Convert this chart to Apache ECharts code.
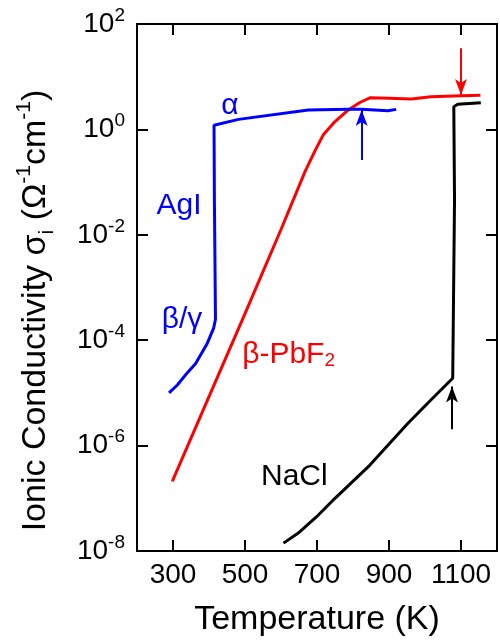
<!DOCTYPE html>
<html>
<head>
<meta charset="utf-8">
<script src="https://cdn.jsdelivr.net/npm/echarts@6/dist/echarts.min.js"></script>
<style>html,body{margin:0;padding:0;background:#fff}#c{width:500px;height:642px}</style>
</head>
<body>
<div id="c"></div>
<script>
// ---- data ----
const xTickValues = [300, 500, 700, 900, 1100];

const agiT     = [289, 312, 335, 363, 395, 413, 418, 415, 414, 482, 676, 787, 823, 897, 920];
const agiSigma = [1.0e-5, 1.41e-5, 2.2e-5, 3.6e-5, 8.7e-5, 1.7e-4, 2.5e-4, 4.6e-2, 1.2, 1.55, 2.33, 2.4, 2.4, 2.26, 2.4];

const pbf2T     = [298, 400, 500, 600, 667, 695, 717, 750, 787, 819, 847, 900, 962, 1017, 1100, 1154];
const pbf2Sigma = [2.1e-7, 8.5e-6, 3.2e-4, 1.26e-2, 0.16, 0.4, 0.78, 1.41, 2.34, 3.24, 3.98, 3.9, 3.78, 4.17, 4.37, 4.44];

const naclT     = [607, 648, 699, 750, 847, 897, 952, 1017, 1077, 1082, 1080, 1091, 1155];
const naclSigma = [1.41e-8, 2.19e-8, 4.47e-8, 1.0e-7, 4.27e-7, 1.02e-6, 2.63e-6, 7.4e-6, 1.9e-5, 4.57e-2, 2.69, 2.99, 3.21];

// arrows: [T, sigma at tail, sigma at head]
const agiArrow  = [824, 0.263, 2.33];
const pbf2Arrow = [1100, 34.7, 4.5];
const naclArrow = [1075, 2.04e-6, 1.32e-5];

// annotation labels
const annoText  = ['α', 'AgI', 'β/γ', 'β-PbF{sub|2}', 'NaCl'];
const annoT     = [458, 317, 325, 621, 637];
const annoSigma = [2.78, 0.0352, 2.42e-4, 5.24e-5, 2.54e-7];
const annoColor = ['#0000ff', '#0000ff', '#0000ff', '#ff0000', '#000000'];

// ---- chart ----
const FONT = "'Liberation Sans', Arial, sans-serif";
const zip = (a, b) => a.map((v, i) => [v, b[i]]);
const arrowLine = (arr, color) => ({
  silent: true,
  symbol: ['none', 'arrow'],
  label: {show: false},
  lineStyle: {color: color, width: 2, type: 'solid'},
  emphasis: {disabled: true},
  data: [[
    {coord: [arr[0], arr[1]], symbol: 'none'},
    {coord: [arr[0], arr[2]], symbol: 'arrow', symbolSize: [9, 16]}
  ]]
});

const chart = echarts.init(document.getElementById('c'), null, {renderer: 'canvas'});
const axisLineStyle = {color: '#000', width: 2};
const supLabel = v => {
  const e = Math.round(Math.log10(v));
  return '{b|10}{s|' + e + '}';
};

chart.setOption({
  animation: false,
  textStyle: {fontFamily: FONT},
  grid: {left: 137, right: 3, top: 24, bottom: 91, containLabel: false},
  xAxis: [{
    type: 'value', min: 200, max: 1200, position: 'bottom',
    name: 'Temperature (K)', nameLocation: 'middle', nameGap: 52,
    nameTextStyle: {fontSize: 34, color: '#000', fontFamily: FONT},
    axisLine: {show: true, lineStyle: axisLineStyle},
    axisTick: {show: true, inside: true, length: 11, lineStyle: axisLineStyle, customValues: xTickValues},
    axisLabel: {show: true, fontSize: 28, color: '#000', margin: 10, fontFamily: FONT,
                customValues: xTickValues, formatter: v => String(v)},
    splitLine: {show: false}
  }, {
    type: 'value', min: 200, max: 1200, position: 'top',
    axisLine: {show: true, lineStyle: axisLineStyle},
    axisTick: {show: true, inside: true, length: 11, lineStyle: axisLineStyle, customValues: xTickValues},
    axisLabel: {show: false},
    splitLine: {show: false}
  }],
  yAxis: [{
    type: 'log', logBase: 100, min: 1e-8, max: 1e2, position: 'left',
    name: 'Ionic Conductivity σ{sub|i} (Ω{sup|-1}cm{sup|-1})',
    nameLocation: 'middle', nameGap: 79, nameRotate: 90,
    nameTextStyle: {
      fontSize: 34, color: '#000', fontFamily: FONT, lineHeight: 44,
      padding: [0, 46, 0, 0],
      rich: {
        sub: {fontSize: 21, verticalAlign: 'bottom', lineHeight: 21, color: '#000', fontFamily: FONT},
        sup: {fontSize: 21, verticalAlign: 'top', lineHeight: 21, color: '#000', fontFamily: FONT}
      }
    },
    axisLine: {show: true, lineStyle: axisLineStyle},
    axisTick: {show: true, inside: true, length: 11, lineStyle: axisLineStyle},
    axisLabel: {
      show: true, margin: 12, color: '#000', formatter: supLabel,
      rich: {
        b: {fontSize: 28, lineHeight: 36, verticalAlign: 'middle', color: '#000', fontFamily: FONT},
        s: {fontSize: 19, lineHeight: 19, verticalAlign: 'top', color: '#000', fontFamily: FONT}
      }
    },
    splitLine: {show: false}
  }, {
    type: 'log', logBase: 100, min: 1e-8, max: 1e2, position: 'right',
    axisLine: {show: true, lineStyle: axisLineStyle},
    axisTick: {show: true, inside: true, length: 11, lineStyle: axisLineStyle},
    axisLabel: {show: false},
    splitLine: {show: false}
  }],
  series: [{
    name: 'AgI', type: 'line', data: zip(agiT, agiSigma), symbol: 'none',
    lineStyle: {color: '#0000ff', width: 3}, z: 3,
    markLine: arrowLine(agiArrow, '#0000ff')
  }, {
    name: 'PbF2', type: 'line', data: zip(pbf2T, pbf2Sigma), symbol: 'none',
    lineStyle: {color: '#ff0000', width: 3}, z: 2,
    markLine: arrowLine(pbf2Arrow, '#ff0000')
  }, {
    name: 'NaCl', type: 'line', data: zip(naclT, naclSigma), symbol: 'none',
    lineStyle: {color: '#000000', width: 3}, z: 2,
    markLine: arrowLine(naclArrow, '#000000')
  }, {
    name: 'labels', type: 'scatter', symbolSize: 0, silent: true, z: 5,
    itemStyle: {opacity: 1},
    data: annoText.map((t, i) => ({
      value: [annoT[i], annoSigma[i]],
      name: t,
      label: {color: annoColor[i], rich: {sub: {color: annoColor[i]}}}
    })),
    label: {
      show: true, position: 'inside', fontSize: 30, fontFamily: FONT, opacity: 1,
      textBorderWidth: 0, textBorderColor: 'transparent', textShadowBlur: 0,
      formatter: p => p.name,
      rich: {sub: {fontSize: 19, verticalAlign: 'bottom', lineHeight: 19, fontFamily: FONT,
                   textBorderWidth: 0}}
    }
  }]
});
</script>
</body>
</html>
